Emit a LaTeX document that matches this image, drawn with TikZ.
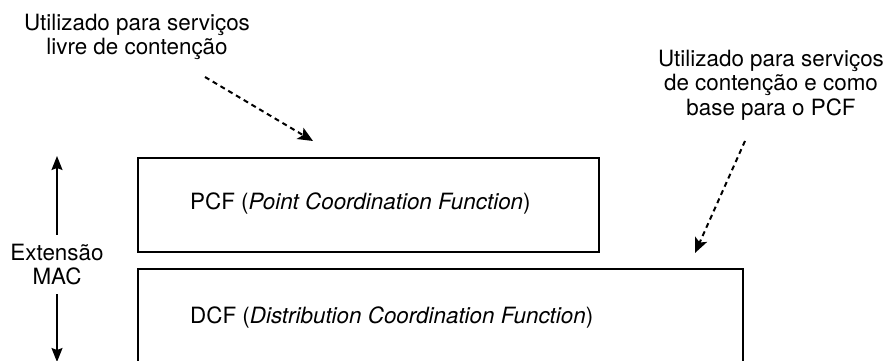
\documentclass[tikz,border=0pt]{standalone}
\usepackage{fontspec}
\setmainfont{TeX Gyre Heros}
\usetikzlibrary{arrows.meta}
\begin{document}
\begin{tikzpicture}[x=1pt,y=-1pt,
  every node/.style={font=\fontsize{22.4}{24.5}\selectfont, inner sep=0pt},
  layerbox/.style={draw, line width=2pt, anchor=north west, align=left,
    text width=#1, minimum height=94pt, inner xsep=0pt},
  note/.style={align=center},
  hint/.style={line width=2pt, dash pattern=on 5pt off 4pt,
    -{Stealth[length=15pt,width=13pt,inset=3.5pt]}},
  span/.style={line width=1.6pt, -{Stealth[length=14pt,width=11pt,inset=2pt]}}]
  \clip (0,0) rectangle (887,361);
  \useasboundingbox (0,0) rectangle (887,361);

  % protocol layers
  \node[layerbox=461pt, minimum height=94pt] (pcf) at (137,157) {};
  \node[anchor=west] (pcftext) at (190,204) {PCF (\textit{Point Coordination Function})};
  \node[layerbox=605pt, minimum height=100pt] (dcf) at (137,268) {};
  \node[anchor=west] (dcftext) at (190,318) {DCF (\textit{Distribution Coordination Function})};

  % MAC extent marker
  \node[note, inner ysep=9pt] (ext) at (57,264.5) {Extensão\\MAC};
  \coordinate (exttop) at (57,156);
  \coordinate (extbot) at (57,362);
  \draw[span] (ext.north) -- (exttop);
  \draw[span] (ext.south) -- (extbot);

  % annotations
  \node[note] (note1) at (137,37) {Utilizado para serviços\\livre de contenção};
  \node[note] (note2) at (771,85) {Utilizado para serviços\\de contenção e como\\base para o PCF};
  \coordinate (n1start) at (205,77);
  \coordinate (n1end) at (313,141);
  \coordinate (n2start) at (745,141);
  \coordinate (n2end) at (695,253);
  \draw[hint] (n1start) -- (n1end);
  \draw[hint] (n2start) -- (n2end);
\end{tikzpicture}
\end{document}
